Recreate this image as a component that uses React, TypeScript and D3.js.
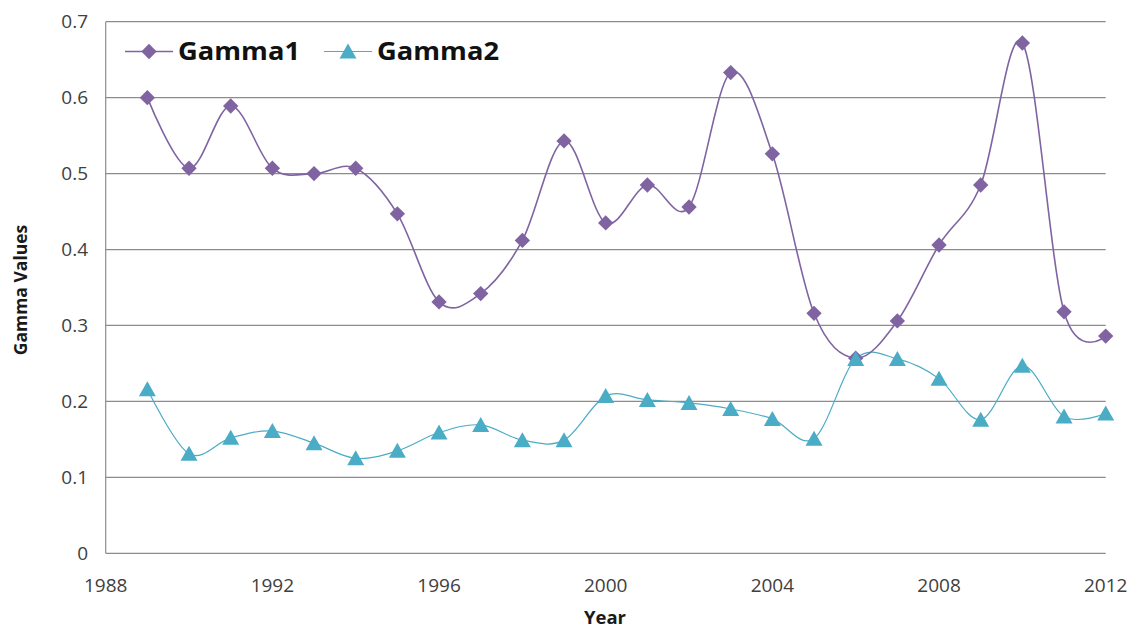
import React from "react";
import * as d3 from "d3";

const years = [1989,1990,1991,1992,1993,1994,1995,1996,1997,1998,1999,2000,2001,2002,2003,2004,2005,2006,2007,2008,2009,2010,2011,2012];
const gamma1 = [0.600,0.507,0.589,0.507,0.500,0.507,0.447,0.331,0.342,0.412,0.543,0.435,0.485,0.456,0.633,0.526,0.316,0.257,0.306,0.406,0.485,0.672,0.318,0.286];
const gamma2 = [0.216,0.131,0.152,0.161,0.145,0.125,0.135,0.159,0.169,0.149,0.149,0.207,0.202,0.198,0.190,0.177,0.151,0.256,0.256,0.230,0.176,0.247,0.180,0.184];
const xTicks = [1988,1992,1996,2000,2004,2008,2012];
const yTicks = [0,0.1,0.2,0.3,0.4,0.5,0.6,0.7];
const seriesNames = ["Gamma1","Gamma2"];

const W = 1133, H = 631;
const left = 105.7, right = 1105.7, top = 21.7, bottom = 553.3;
const purple = "#8064A2";
const cyan = "#4BACC6";
const font = "'Open Sans', 'Noto Sans', sans-serif";

export default function App() {
  const x = d3.scaleLinear().domain([1988, 2012]).range([left, right]);
  const y = d3.scaleLinear().domain([0, 0.7]).range([bottom, top]);
  const line = d3.line<number>()
    .x((_, i) => x(years[i]))
    .y((d) => y(d))
    .curve(d3.curveCatmullRom.alpha(0));
  const diamond = d3.symbol().type(d3.symbolDiamond2).size(150)()!;
  const tri = (cx: number, cy: number) =>
    `M${cx},${cy - 8}L${cx + 8.5},${cy + 7}L${cx - 8.5},${cy + 7}Z`;

  return (
    <svg width={W} height={H} style={{ position: "absolute", left: 0, top: 0, background: "#fff" }}>
      {yTicks.map((t) => (
        <g key={t}>
          {t > 0 && <line x1={left} x2={right} y1={y(t)} y2={y(t)} stroke="#8c8c8c" strokeWidth={1.2} />}
          <text x={88} y={y(t)} dy="0.35em" textAnchor="end" fontFamily={font} fontSize={19} fill="#404040">{t === 0 ? "0" : t.toFixed(1)}</text>
        </g>
      ))}
      <line x1={left} x2={right} y1={bottom} y2={bottom} stroke="#8c8c8c" strokeWidth={1.2} />
      <line x1={left} x2={left} y1={top} y2={bottom} stroke="#8c8c8c" strokeWidth={1.2} />
      {xTicks.map((t) => (
        <text key={t} x={x(t)} y={592} textAnchor="middle" fontFamily={font} fontSize={19} fill="#404040">{t}</text>
      ))}
      <text x={605} y={624} textAnchor="middle" fontFamily={font} fontSize={18.5} fontWeight="bold" fill="#1a1a1a">Year</text>
      <text transform={`translate(27,290) rotate(-90)`} textAnchor="middle" fontFamily={font} fontSize={17.5} fontWeight="bold" fill="#1a1a1a">Gamma Values</text>

      <path d={line(gamma2)!} fill="none" stroke={cyan} strokeWidth={1.2} />
      <path d={line(gamma1)!} fill="none" stroke={purple} strokeWidth={1.6} />
      {gamma1.map((v, i) => (
        <path key={"d" + i} d={diamond} transform={`translate(${x(years[i])},${y(v)})`} fill={purple} />
      ))}
      {gamma2.map((v, i) => (
        <path key={"t" + i} d={tri(x(years[i]), y(v))} fill={cyan} />
      ))}

      {/* legend */}
      <line x1={125} x2={173} y1={51.5} y2={51.5} stroke={purple} strokeWidth={1.6} />
      <path d={diamond} transform="translate(149,51.5)" fill={purple} />
      <text x={178} y={60} fontFamily={font} fontSize={25} fontWeight="bold" fill="#111" textLength={122} lengthAdjust="spacingAndGlyphs">{seriesNames[0]}</text>
      <line x1={324} x2={372} y1={51.5} y2={51.5} stroke={cyan} strokeWidth={1.2} />
      <path d={tri(348, 51.5)} fill={cyan} />
      <text x={377} y={60} fontFamily={font} fontSize={25} fontWeight="bold" fill="#111" textLength={122} lengthAdjust="spacingAndGlyphs">{seriesNames[1]}</text>
    </svg>
  );
}
